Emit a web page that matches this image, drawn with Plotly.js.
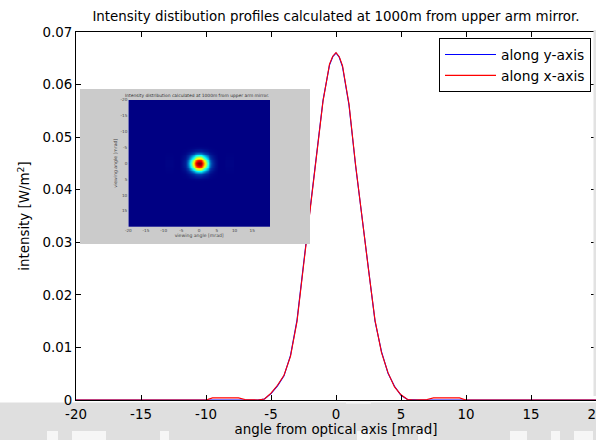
<!DOCTYPE html>
<html><head><meta charset="utf-8">
<script src="https://cdn.plot.ly/plotly-3.0.1.min.js"></script>
<style>html,body{margin:0;padding:0;background:#fff;overflow:hidden}</style>
</head><body><div id="chart" style="width:596px;height:440px"></div>
<script>
// angle from optical axis [mrad]
const angle = [-20,-15,-11,-10.5,-10,-9.5,-9,-8.5,-8,-7.5,-7,-6.5,-6,-5.5,-5,-4.5,-4,-3.5,-3,-2.5,-2,-1.5,-1,-0.5,-0.25,
               0,0.25,0.5,1,1.5,2,2.5,3,3.5,4,4.5,5,5.5,6,6.5,7,7.5,8,8.5,9,9.5,10,10.5,11,15,20];
// intensity along y-axis (blue)
const alongY = [0,0,0,0,0,0,0,0,0,0,0,0,0,0.0002,0.0012,0.0027,0.0046,0.0085,0.0152,0.0258,0.0362,0.0466,0.0570,0.0637,0.0653,
                0.0660,0.0652,0.0634,0.0561,0.0447,0.0348,0.0250,0.0150,0.0092,0.0051,0.0026,0.0009,0.0001,0,0,0,0,0,0,0,0,0,0,0,0,0];
// intensity along x-axis (red)
const alongX = [0,0,0,0,0,0.0004,0.0004,0.0004,0.0004,0.0004,0.0001,0,0,0.0002,0.0013,0.0028,0.0047,0.0083,0.0149,0.0255,0.0360,0.0468,0.0568,0.0639,0.0654,
                0.0661,0.0653,0.0636,0.0563,0.0449,0.0346,0.0248,0.0152,0.0090,0.0052,0.0025,0.0010,0.0001,0,0,0.0001,0.0004,0.0004,0.0004,0.0004,0.0004,0,0,0,0,0];
const xTickVals = [-20,-15,-10,-5,0,5,10,15,20];
const xTickText = ['-20','-15','-10','-5','0','5','10','15','20'];
const yTickVals = [0,0.01,0.02,0.03,0.04,0.05,0.06,0.07];
const yTickText = ['0','0.01','0.02','0.03','0.04','0.05','0.06','0.07'];
const insetTickVals = [-20,-15,-10,-5,0,5,10,15];
const insetTickText = ['-20','-15','-10','-5','0','5','10','15'];

const FONT = 'DejaVu Sans, Liberation Sans, Arial, sans-serif';
const FS = 13.4;

// inset image: 2D map built from the two measured profiles
const peak = Math.max(...alongX);
const zMap = alongY.map(vy => alongX.map(vx => vy * vx / peak));

const W = 596, H = 440, L = 76, R = 0, T = 32, B = 40;
const pw = W - L - R, ph = H - T - B;
const px = v => (v - L) / pw;          // pixel x -> paper
const py = v => (H - B - v) / ph;      // pixel y -> paper

const traces = [
  {x: angle, y: alongY, type: 'scatter', mode: 'lines', name: 'along y-axis',
   line: {color: '#0000ff', width: 1.1}, xaxis: 'x', yaxis: 'y'},
  {x: angle, y: alongX, type: 'scatter', mode: 'lines', name: 'along x-axis',
   line: {color: '#ff0000', width: 1.1}, xaxis: 'x', yaxis: 'y'},
  {x: [0,1,1,0,0], y: [0,0,1,1,0], type: 'scatter', mode: 'lines', fill: 'toself',
   fillcolor: '#cbcbcb', line: {width: 0}, showlegend: false, hoverinfo: 'skip',
   xaxis: 'x2', yaxis: 'y2'},
  {x: angle, y: angle, z: zMap, type: 'heatmap', colorscale: 'Jet', zmin: 0, zmax: peak,
   zsmooth: 'best', showscale: false, xaxis: 'x3', yaxis: 'y3', hoverinfo: 'skip'}
];

const axBase = {showline: true, linecolor: '#000', linewidth: 1, mirror: 'ticks', ticks: 'inside',
  ticklen: 5, tickcolor: '#000', showgrid: false, zeroline: false, automargin: false,
  ticklabeloverflow: 'allow', tickfont: {family: FONT, size: FS, color: '#000'}};

const insetAx = {showline: false, showgrid: false, zeroline: false, ticks: '', automargin: false,
  tickvals: insetTickVals, ticktext: insetTickText, tickfont: {family: FONT, size: 4.2, color: '#444'}};

const shapes = [
  {type: 'rect', xref: 'paper', yref: 'paper', x0: px(-5), x1: px(600), y0: py(445), y1: py(402.5),
   fillcolor: '#dfdfdf', line: {width: 0}, layer: 'below'},
  {type: 'rect', xref: 'paper', yref: 'paper', x0: px(593.5), x1: px(600), y0: py(396), y1: py(30),
   fillcolor: '#e2e2e2', line: {width: 0}, layer: 'above'}
];
const whiteBlocks = [[47,58],[72,106],[160,169],[357,370],[418,430],[510,527],[551,560],[574,593]];
whiteBlocks.forEach(b => shapes.push({type: 'rect', xref: 'paper', yref: 'paper', x0: px(b[0]), x1: px(b[1]),
  y0: py(445), y1: py(431), fillcolor: '#f6f6f6', line: {width: 0}, layer: 'below'}));
shapes.push({type: 'rect', xref: 'paper', yref: 'paper', x0: px(346), x1: px(371), y0: py(403.5), y1: py(401),
  fillcolor: '#f8f8f8', line: {width: 0}, layer: 'below'});

const layout = {
  width: W, height: H,
  margin: {l: L, r: R, t: T, b: B, pad: 0},
  paper_bgcolor: '#ffffff', plot_bgcolor: '#ffffff',
  font: {family: FONT, size: FS, color: '#000'},
  title: {text: 'Intensity distibution profiles calculated at 1000m from upper arm mirror.',
    font: {family: FONT, size: FS, color: '#000'}, x: 0.5, xref: 'paper', xanchor: 'center',
    y: 1 - 16 / H, yref: 'container', yanchor: 'middle'},
  xaxis: Object.assign({}, axBase, {range: [-20, 20], tickvals: xTickVals, ticktext: xTickText,
    domain: [0, 1], anchor: 'y', ticklabelstandoff: 2,
    title: {text: 'angle from optical axis [mrad]', font: {family: FONT, size: FS, color: '#000'}, standoff: 3}}),
  yaxis: Object.assign({}, axBase, {range: [0, 0.07], tickvals: yTickVals, ticktext: yTickText,
    domain: [0, 1], anchor: 'x',
    title: {text: 'intensity [W/m<sup>2</sup>]', font: {family: FONT, size: FS, color: '#000'}, standoff: 9}}),
  xaxis2: {domain: [px(80), px(310)], range: [0, 1], visible: false, anchor: 'y2', fixedrange: true},
  yaxis2: {domain: [py(244), py(89)], range: [0, 1], visible: false, anchor: 'x2', fixedrange: true},
  xaxis3: Object.assign({}, insetAx, {domain: [px(128.3), px(270)], range: [-20, 20], anchor: 'y3',
    title: {text: 'viewing angle [mrad]', font: {family: FONT, size: 4.6, color: '#444'}, standoff: 1}}),
  yaxis3: Object.assign({}, insetAx, {domain: [py(226.7), py(100)], range: [20, -20], anchor: 'x3',
    title: {text: 'viewing angle [mrad]', font: {family: FONT, size: 4.6, color: '#444'}, standoff: 2}}),
  annotations: [{text: 'Intensity distribution calculated at 1000m from upper arm mirror.',
    xref: 'paper', yref: 'paper', x: px(197), y: py(95), showarrow: false,
    font: {family: FONT, size: 4.4, color: '#333'}, xanchor: 'center', yanchor: 'middle'}],
  legend: {x: px(591), y: py(38), xanchor: 'right', yanchor: 'top', bgcolor: '#ffffff',
    bordercolor: '#000', borderwidth: 1, font: {family: FONT, size: 13.8, color: '#000'},
    itemwidth: 51, tracegroupgap: 0},
  shapes: shapes,
  showlegend: true
};

Plotly.newPlot('chart', traces, layout, {staticPlot: true, displayModeBar: false});
</script></body></html>
